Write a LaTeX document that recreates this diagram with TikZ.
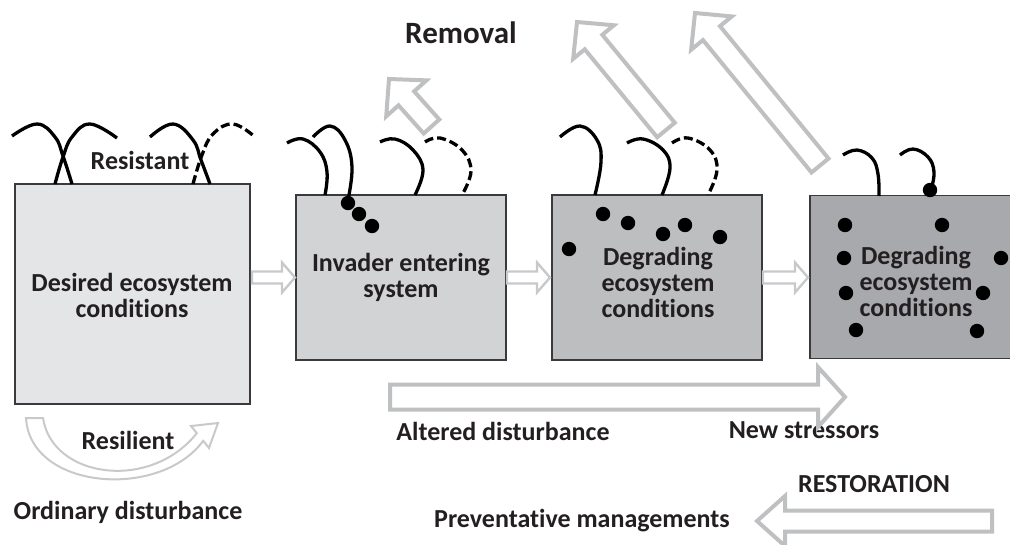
\documentclass[tikz,border=0pt]{standalone}
\usepackage{fontspec}
\setmainfont{Carlito}[Ligatures=NoCommon]
\usetikzlibrary{calc}
\definecolor{ink}{HTML}{231F20}
\definecolor{boxline}{HTML}{3A3A3C}
\definecolor{boxa}{HTML}{E4E5E7}
\definecolor{boxb}{HTML}{D1D3D4}
\definecolor{boxc}{HTML}{BCBEC0}
\definecolor{boxd}{HTML}{A7A9AC}
\definecolor{arrowgray}{HTML}{BFC0C2}
\definecolor{thingray}{HTML}{C8C9CB}
\tikzset{
  box/.style={draw=boxline, line width=1.3pt, inner sep=0pt},
  lbl/.style={text=ink, font=\bfseries\fontsize{26}{26}\selectfont, align=center, inner sep=0pt},
  hook/.style={draw=black, line width=3.3pt},
  dashhook/.style={hook, dash pattern=on 9pt off 4pt},
  bigarrow/.style={draw=arrowgray, line width=4pt, fill=white, line join=miter},
  smallarrow/.style={draw=thingray, line width=2.4pt, fill=white, line join=miter},
  seed/.style={fill=black},
}
% block arrow: style, tail, tip, shaft half width, head half width, head length
\newcommand\blockarrow[6][bigarrow]{%
  \coordinate (#2-#3-base) at ($(#3)!#6!(#2)$);
  \path[#1] ($(#2)!#4!90:(#3)$) -- ($(#2-#3-base)!#4!90:(#3)$)
    -- ($(#2-#3-base)!#5!90:(#3)$) -- (#3)
    -- ($(#2-#3-base)!#5!-90:(#3)$) -- ($(#2-#3-base)!#4!-90:(#3)$)
    -- ($(#2)!#4!-90:(#3)$) -- cycle;}
\begin{document}
\begin{tikzpicture}[x=1pt,y=-1pt]
\useasboundingbox (0,0) rectangle (1010,544);

% ecosystem boxes
\node[box, fill=boxa, minimum width=235pt, minimum height=220pt] (b1) at (132.5,294) {};
\node[box, fill=boxb, minimum width=210pt, minimum height=165pt] (b2) at (401,277.5) {};
\node[box, fill=boxc, minimum width=210pt, minimum height=165pt] (b3) at (657,277.5) {};
\node[box, fill=boxd, minimum width=210pt, minimum height=163pt] (b4) at (915,277) {};

% box texts
\node[lbl] (t1) at (132,295) {Desired ecosystem\\conditions};
\node[lbl] (t2) at (401,277.5) {Invader entering\\system};
\node[lbl] (t3) at (658,282) {Degrading\\ecosystem\\conditions};
\node[lbl] (t4) at (916,281) {Degrading\\ecosystem\\conditions};

% species hooks on box 1
\draw[hook] plot[smooth, tension=0.7] coordinates {(12,136) (37,124) (55,137) (63,156) (72,184)};
\draw[hook] plot[smooth, tension=0.7] coordinates {(55,184) (63,157) (72,137) (90,124) (117,138)};
\draw[hook] plot[smooth, tension=0.7] coordinates {(150,137) (173,124) (193,140) (201,160) (210,184)};
\draw[dashhook] plot[smooth, tension=0.7] coordinates {(193,184) (202,155) (213,134) (233,124) (255,137)};

% species hooks on box 2
\draw[hook] plot[smooth, tension=0.7] coordinates {(287,143) (303,139) (320,152) (327,172) (325,195)};
\draw[hook] plot[smooth, tension=0.7] coordinates {(313,137) (330,126) (345,140) (352,167) (348,200)};
\draw[hook] plot[smooth, tension=0.7] coordinates {(380,142) (395,139) (413,150) (423,170) (415,195)};
\draw[dashhook] plot[smooth, tension=0.7] coordinates {(425,142) (440,138) (462,150) (471,171) (462,195)};

% species hooks on box 3
\draw[hook] plot[smooth, tension=0.7] coordinates {(560,137) (580,126) (597,140) (601,162) (595,195)};
\draw[hook] plot[smooth, tension=0.7] coordinates {(627,143) (643,139) (663,150) (670,168) (662,195)};
\draw[dashhook] plot[smooth, tension=0.7] coordinates {(672,143) (688,138) (710,150) (717,170) (708,195)};

% species hooks on box 4
\draw[hook] plot[smooth, tension=0.7] coordinates {(843,155) (857,150) (872,158) (878,174) (879,196)};
\draw[hook] plot[smooth, tension=0.7] coordinates {(900,155) (913,149) (928,157) (934,172) (931,190)};

% invader seeds
\fill[seed] (348,203) circle (7.2);
\fill[seed] (359,214) circle (7.2);
\fill[seed] (372,226) circle (7.2);

\fill[seed] (603,214) circle (7.2);
\fill[seed] (628,223) circle (7.2);
\fill[seed] (663,234) circle (7.2);
\fill[seed] (685,225) circle (7.2);
\fill[seed] (720,237) circle (7.2);
\fill[seed] (569,249) circle (7.2);

\fill[seed] (930,190) circle (7.2);
\fill[seed] (845,225) circle (7.2);
\fill[seed] (942,225) circle (7.2);
\fill[seed] (844,258) circle (7.2);
\fill[seed] (1001,258) circle (7.2);
\fill[seed] (846,293) circle (7.2);
\fill[seed] (983,293) circle (7.2);
\fill[seed] (856,330) circle (7.2);
\fill[seed] (977,331) circle (7.2);

% labels
\node[lbl] (resistant) at (140,160) {Resistant};
\node[lbl] (resilient) at (128,440) {Resilient};
\node[lbl] (ordinary) at (128,512) {Ordinary disturbance};
\node[lbl, font=\bfseries\fontsize{31}{31}\selectfont] (removal) at (461,33) {Removal};
\node[lbl] (altered) at (503,431) {Altered disturbance};
\node[lbl] (stressors) at (804,430) {New stressors};
\node[lbl] (restoration) at (874,484) {RESTORATION};
\node[lbl] (preventative) at (582,521) {Preventative managements};

% transitions between boxes
\coordinate (s1) at (252,277.5); \coordinate (e1) at (295,277.5);
\coordinate (s2) at (507,277.5); \coordinate (e2) at (550,277.5);
\coordinate (s3) at (763,277.5); \coordinate (e3) at (808,277.5);
\blockarrow[smallarrow]{s1}{e1}{6pt}{15pt}{13pt}
\blockarrow[smallarrow]{s2}{e2}{6pt}{15pt}{13pt}
\blockarrow[smallarrow]{s3}{e3}{6pt}{15pt}{13pt}

% removal arrows
\coordinate (r1s) at (431.5,126.5); \coordinate (r1e) at (389,79);
\coordinate (r2s) at (666,130);     \coordinate (r2e) at (577,22);
\coordinate (r3s) at (820,165.5);   \coordinate (r3e) at (695,13);
\blockarrow{r1s}{r1e}{10.5pt}{27pt}{26pt}
\blockarrow{r2s}{r2e}{11.4pt}{26.4pt}{26pt}
\blockarrow{r3s}{r3e}{11pt}{26.3pt}{26pt}

% altered disturbance and restoration
\coordinate (as) at (390,397); \coordinate (ae) at (845,397);
\blockarrow{as}{ae}{12.5pt}{30pt}{27pt}
\coordinate (rs) at (992,521); \coordinate (re) at (757,521);
\blockarrow{rs}{re}{10.5pt}{25pt}{28pt}

% resilient return arrow
\path[draw=thingray, line width=2pt, fill=white, line join=miter]
  (26,418) -- (43,418) .. controls (52,478) and (150,492) .. (196.8,433.2)
  -- (191,426) -- (218,423) -- (209,448) -- (203.2,440.8)
  .. controls (160,500) and (30,490) .. (26,418) -- cycle;
\end{tikzpicture}
\end{document}
